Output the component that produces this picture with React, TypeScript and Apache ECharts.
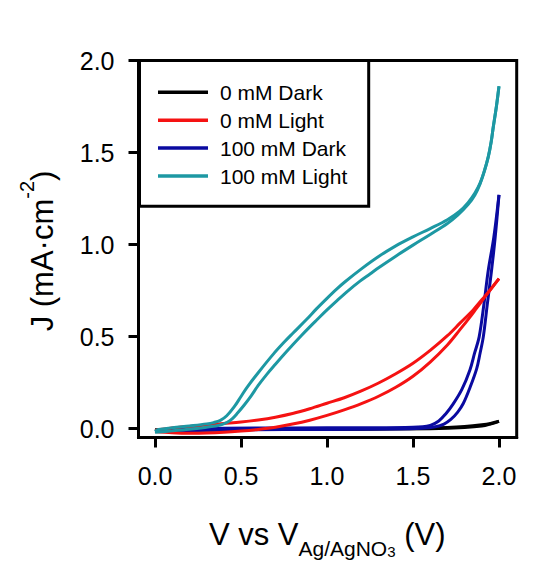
import { useEffect, useRef } from 'react';
import * as echarts from 'echarts';

// ---- data (V vs Ag/AgNO3, J in mA/cm^2) ----
const xTicks = [0, 0.5, 1.0, 1.5, 2.0];
const yTicks = [0, 0.5, 1.0, 1.5, 2.0];
const legendNames = ['0 mM Dark', '0 mM Light', '100 mM Dark', '100 mM Light'];

const dark0Fwd = [[0, -0.006], [0.5, -0.003], [1.0, -0.001], [1.5, 0.002], [1.7, 0.007], [1.8, 0.012], [1.9, 0.021], [1.95, 0.028], [2.0, 0.04]];
const dark0Rev = [[2.0, 0.04], [1.95, 0.025], [1.9, 0.014], [1.8, 0.006], [1.6, 0.0], [1.2, -0.003], [0.6, -0.005], [0.0, -0.01]];

const light0Fwd = [[0.0, -0.015], [0.1, -0.022], [0.2, -0.025], [0.3, -0.024], [0.4, -0.02], [0.5, -0.013], [0.6, -0.004], [0.7, 0.008], [0.8, 0.025], [0.9, 0.046], [1.0, 0.072], [1.1, 0.102], [1.2, 0.136], [1.3, 0.176], [1.4, 0.225], [1.5, 0.285], [1.6, 0.362], [1.7, 0.455], [1.773, 0.538], [1.83, 0.605], [1.87, 0.655], [1.91, 0.705], [1.95, 0.755], [2.0, 0.815]];
const light0Rev = [[2.0, 0.815], [1.95, 0.755], [1.9, 0.7], [1.85, 0.645], [1.773, 0.573], [1.7, 0.505], [1.6, 0.425], [1.5, 0.355], [1.4, 0.298], [1.3, 0.248], [1.2, 0.205], [1.1, 0.168], [1.0, 0.138], [0.9, 0.108], [0.8, 0.082], [0.7, 0.062], [0.6, 0.047], [0.5, 0.036], [0.4, 0.028], [0.3, 0.02], [0.2, 0.012], [0.1, 0.003], [0.0, -0.01]];

const dark100Fwd = [[0.0, -0.015], [0.2, -0.01], [0.5, -0.006], [1.0, -0.004], [1.4, -0.002], [1.55, 0.002], [1.63, 0.01], [1.68, 0.025], [1.72, 0.05], [1.76, 0.09], [1.793, 0.138], [1.83, 0.22], [1.87, 0.325], [1.89, 0.41], [1.909, 0.5], [1.932, 0.675], [1.957, 0.862], [1.978, 1.04], [2.0, 1.27]];
const dark100Rev = [[2.0, 1.27], [1.97, 1.04], [1.938, 0.862], [1.913, 0.68], [1.885, 0.5], [1.858, 0.41], [1.831, 0.319], [1.785, 0.215], [1.734, 0.135], [1.69, 0.08], [1.65, 0.042], [1.6, 0.018], [1.5, 0.008], [1.2, 0.005], [0.8, 0.004], [0.4, 0.002], [0.1, -0.003], [0.0, -0.012]];

const light100Fwd = [[0.0, -0.02], [0.1, -0.012], [0.2, -0.003], [0.3, 0.008], [0.38, 0.02], [0.42, 0.035], [0.45, 0.055], [0.48, 0.085], [0.52, 0.13], [0.56, 0.18], [0.6, 0.235], [0.65, 0.295], [0.7, 0.35], [0.756, 0.41], [0.8, 0.455], [0.85, 0.505], [0.9, 0.553], [0.94, 0.59], [1.0, 0.645], [1.06, 0.697], [1.124, 0.75], [1.19, 0.8], [1.25, 0.84], [1.3, 0.874], [1.4, 0.937], [1.5, 0.997], [1.6, 1.055], [1.7, 1.115], [1.76, 1.16], [1.82, 1.217], [1.86, 1.27], [1.89, 1.33], [1.915, 1.4], [1.938, 1.478], [1.955, 1.56], [1.967, 1.64], [1.985, 1.75], [2.0, 1.86]];
const light100Rev = [[2.0, 1.86], [1.985, 1.75], [1.967, 1.64], [1.955, 1.56], [1.938, 1.478], [1.915, 1.4], [1.89, 1.334], [1.86, 1.28], [1.82, 1.228], [1.77, 1.18], [1.7, 1.135], [1.6, 1.087], [1.5, 1.042], [1.4, 0.993], [1.3, 0.935], [1.2, 0.868], [1.105, 0.798], [1.056, 0.758], [1.0, 0.708], [0.94, 0.652], [0.882, 0.594], [0.8, 0.517], [0.75, 0.469], [0.688, 0.405], [0.6, 0.304], [0.533, 0.222], [0.5, 0.175], [0.46, 0.118], [0.417, 0.07], [0.38, 0.045], [0.34, 0.033], [0.3, 0.026], [0.2, 0.015], [0.1, 0.005], [0.02, -0.005], [0.0, -0.015]];

const COLORS = ['#000000', '#f51212', '#0a0aa0', '#1d98a3'];
const FONT = 'Arial, "Liberation Sans", Helvetica, sans-serif';

export default function App() {
  const ref = useRef<HTMLDivElement>(null);
  useEffect(() => {
    document.body.style.margin = '0';
    const chart = echarts.init(ref.current!, null, { renderer: 'svg' });

    const mk = (name: string, data: number[][], color: string) => ({
      type: 'line',
      name,
      data,
      showSymbol: false,
      symbol: 'none',
      smooth: 0.35,
      lineStyle: { color, width: 3 },
      itemStyle: { color },
      emphasis: { disabled: true },
    });

    const series = [
      mk(legendNames[0], dark0Fwd, COLORS[0]),
      mk(legendNames[0], dark0Rev, COLORS[0]),
      mk(legendNames[2], dark100Fwd, COLORS[2]),
      mk(legendNames[2], dark100Rev, COLORS[2]),
      mk(legendNames[1], light0Fwd, COLORS[1]),
      mk(legendNames[1], light0Rev, COLORS[1]),
      mk(legendNames[3], light100Fwd, COLORS[3]),
      mk(legendNames[3], light100Rev, COLORS[3]),
    ];

    const legendY0 = 92.3;
    const legendStep = 27.9;
    const legendEls: any[] = [
      {
        type: 'rect',
        shape: { x: 139.5, y: 60.5, width: 229.2, height: 145.8 },
        style: { fill: '#ffffff', stroke: '#000000', lineWidth: 3 },
        z: 10,
      },
    ];
    legendNames.forEach((n, i) => {
      const y = legendY0 + i * legendStep;
      legendEls.push({
        type: 'line',
        shape: { x1: 158, y1: y, x2: 208, y2: y },
        style: { stroke: COLORS[i], lineWidth: 3.5 },
        z: 11,
      });
      legendEls.push({
        type: 'text',
        x: 220,
        y,
        style: { text: n, fontSize: 21, fontFamily: FONT, fill: '#000', align: 'left', verticalAlign: 'middle' },
        z: 11,
      });
    });

    const option: any = {
      animation: false,
      backgroundColor: '#ffffff',
      grid: {
        left: 138.5,
        right: 43.3,
        top: 60.5,
        bottom: 129.5,
        show: true,
        borderColor: '#000',
        borderWidth: 3,
        backgroundColor: 'transparent',
      },
      xAxis: {
        type: 'value',
        min: -0.096,
        max: 2.103,
        axisLine: { show: true, onZero: false, lineStyle: { color: '#000', width: 3 } },
        axisTick: { show: true, inside: false, length: 10, lineStyle: { color: '#000', width: 3 }, customValues: xTicks },
        axisLabel: {
          show: true,
          margin: 26,
          color: '#000',
          fontSize: 25,
          fontFamily: FONT,
          customValues: xTicks,
          formatter: (v: number) => v.toFixed(1),
        },
        splitLine: { show: false },
      },
      yAxis: {
        type: 'value',
        min: -0.048,
        max: 2.0,
        axisLine: { show: true, onZero: false, lineStyle: { color: '#000', width: 3 } },
        axisTick: { show: true, inside: false, length: 10, lineStyle: { color: '#000', width: 3 }, customValues: yTicks },
        axisLabel: {
          show: true,
          margin: 24,
          color: '#000',
          fontSize: 25,
          fontFamily: FONT,
          customValues: yTicks,
          formatter: (v: number) => v.toFixed(1),
        },
        splitLine: { show: false },
      },
      series,
      graphic: [
        ...legendEls,
        {
          type: 'text',
          x: 327.2,
          y: 509.2,
          style: {
            text: '{m|V vs V}{s|Ag/AgNO}{t|3}{m| (V)}',
            align: 'center',
            verticalAlign: 'top',
            fill: '#000',
            fontFamily: FONT,
            rich: {
              m: { fontSize: 31, fontFamily: FONT, lineHeight: 50, verticalAlign: 'middle', fill: '#000' },
              s: { fontSize: 21, fontFamily: FONT, lineHeight: 23, verticalAlign: 'bottom', fill: '#000' },
              t: { fontSize: 15, fontFamily: FONT, lineHeight: 9, verticalAlign: 'bottom', fill: '#000' },
            },
          },
        },
        {
          type: 'text',
          x: 42,
          y: 251,
          rotation: Math.PI / 2,
          style: {
            text: '{m|J (mA·cm}{p|-2}{m|)}',
            align: 'center',
            verticalAlign: 'middle',
            fill: '#000',
            fontFamily: FONT,
            rich: {
              m: { fontSize: 31, fontFamily: FONT, lineHeight: 50, verticalAlign: 'middle', fill: '#000' },
              p: { fontSize: 20, fontFamily: FONT, lineHeight: 34, verticalAlign: 'top', fill: '#000' },
            },
          },
        },
      ],
    };

    chart.setOption(option);
    return () => chart.dispose();
  }, []);
  return <div ref={ref} style={{ width: 560, height: 567 }} />;
}
